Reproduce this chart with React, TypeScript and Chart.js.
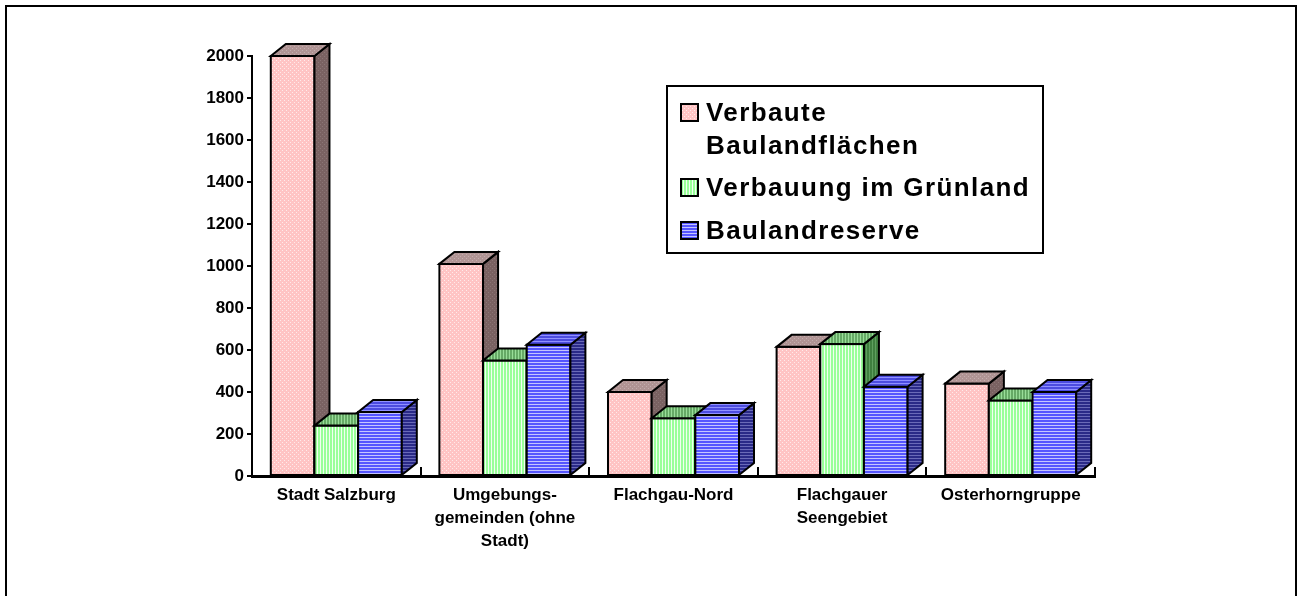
import React, { useEffect, useRef } from 'react';
import { Chart, registerables } from 'chart.js';

Chart.register(...registerables);

const categories: string[][] = [
  ['Stadt Salzburg'],
  ['Umgebungs-', 'gemeinden (ohne', 'Stadt)'],
  ['Flachgau-Nord'],
  ['Flachgauer', 'Seengebiet'],
  ['Osterhorngruppe'],
];
const seriesNames = ['Verbaute Baulandflächen', 'Verbauung im Grünland', 'Baulandreserve'];
const legendLines: string[][] = [['Verbaute', 'Baulandflächen'], ['Verbauung im Grünland'], ['Baulandreserve']];
const verbauteBauland = [2000, 1010, 400, 615, 440];
const verbauungGruenland = [240, 550, 275, 628, 360];
const baulandreserve = [305, 625, 290, 425, 400];
const yMin = 0;
const yMax = 2000;
const yStep = 200;

const FONT = '"Liberation Sans", Arial, sans-serif';

function makePattern(w: number, h: number, paint: (c: CanvasRenderingContext2D) => void) {
  const cv = document.createElement('canvas');
  cv.width = w;
  cv.height = h;
  const c = cv.getContext('2d')!;
  paint(c);
  return c.createPattern(cv, 'repeat')!;
}

function dots(bg: string, fg: string) {
  return makePattern(4, 4, (c) => {
    c.fillStyle = bg;
    c.fillRect(0, 0, 4, 4);
    c.fillStyle = fg;
    c.fillRect(0, 0, 1, 1);
    c.fillRect(2, 2, 1, 1);
  });
}
function vstripes(bg: string, fg: string) {
  return makePattern(3, 3, (c) => {
    c.fillStyle = bg;
    c.fillRect(0, 0, 3, 3);
    c.fillStyle = fg;
    c.fillRect(2, 0, 1, 3);
  });
}
function hstripes(bg: string, fg: string) {
  return makePattern(3, 3, (c) => {
    c.fillStyle = bg;
    c.fillRect(0, 0, 3, 3);
    c.fillStyle = fg;
    c.fillRect(0, 2, 3, 1);
  });
}

export default function App() {
  const ref = useRef<HTMLCanvasElement>(null);

  useEffect(() => {
    const canvas = ref.current!;
    const styles = [
      {
        front: dots('#FFC4C4', '#FFEAEA'),
        top: dots('#B09494', '#C4AEAE'),
        side: dots('#7A6262', '#8C7676'),
      },
      {
        front: vstripes('#99FF99', '#F0FFF0'),
        top: vstripes('#66AA66', '#99DD99'),
        side: vstripes('#3F7F3F', '#5F9F5F'),
      },
      {
        front: hstripes('#5555FF', '#C4C4FF'),
        top: hstripes('#4C4CE0', '#9090FF'),
        side: hstripes('#2A2A88', '#6A6AB8'),
      },
    ];
    const DX = 15;
    const DY = 12;

    const bars3d = {
      id: 'bars3d',
      afterDatasetsDraw(chart: any) {
        const ctx: CanvasRenderingContext2D = chart.ctx;
        ctx.save();
        ctx.lineWidth = 2;
        ctx.strokeStyle = '#000';
        ctx.lineJoin = 'miter';
        const n = chart.data.labels.length;
        for (let j = 0; j < n; j++) {
          for (let i = 0; i < chart.data.datasets.length; i++) {
            const el = chart.getDatasetMeta(i).data[j];
            const { x, y, base, width } = el.getProps(['x', 'y', 'base', 'width'], true);
            const l = x - width / 2;
            const r = x + width / 2;
            const st = styles[i];
            // front
            ctx.fillStyle = st.front;
            ctx.fillRect(l, y, width, base - y);
            ctx.strokeRect(l, y, width, base - y);
            // side
            ctx.beginPath();
            ctx.moveTo(r, y);
            ctx.lineTo(r + DX, y - DY);
            ctx.lineTo(r + DX, base - DY);
            ctx.lineTo(r, base);
            ctx.closePath();
            ctx.fillStyle = st.side;
            ctx.fill();
            ctx.stroke();
            // top
            ctx.beginPath();
            ctx.moveTo(l, y);
            ctx.lineTo(l + DX, y - DY);
            ctx.lineTo(r + DX, y - DY);
            ctx.lineTo(r, y);
            ctx.closePath();
            ctx.fillStyle = st.top;
            ctx.fill();
            ctx.stroke();
          }
        }
        ctx.restore();
      },
    };

    const frameAndLegend = {
      id: 'frameAndLegend',
      beforeDraw(chart: any) {
        const ctx: CanvasRenderingContext2D = chart.ctx;
        ctx.save();
        ctx.fillStyle = '#fff';
        ctx.fillRect(0, 0, chart.width, chart.height);
        ctx.lineWidth = 2;
        ctx.strokeStyle = '#000';
        ctx.strokeRect(6, 6, 1290, 620);
        ctx.restore();
      },
      afterDraw(chart: any) {
        const ctx: CanvasRenderingContext2D = chart.ctx;
        const xs = chart.scales.x;
        const area = chart.chartArea;
        ctx.save();
        // category ticks pointing up from the axis
        ctx.strokeStyle = '#000';
        ctx.lineWidth = 2;
        for (let j = 0; j <= chart.data.labels.length; j++) {
          const px = Math.round(xs.getPixelForValue(j - 0.5));
          ctx.beginPath();
          ctx.moveTo(px, area.bottom);
          ctx.lineTo(px, area.bottom - 9);
          ctx.stroke();
        }
        // legend
        ctx.lineWidth = 2;
        ctx.strokeRect(667, 86, 376, 167);
        const baselines = [[121, 154], [196], [239]];
        ctx.font = `bold 26px ${FONT}`;
        (ctx as any).letterSpacing = '1.4px';
        ctx.textBaseline = 'alphabetic';
        ctx.textAlign = 'left';
        for (let i = 0; i < legendLines.length; i++) {
          const b0 = baselines[i][0];
          ctx.fillStyle = styles[i].front;
          ctx.fillRect(681, b0 - 17, 17, 17);
          ctx.strokeRect(681, b0 - 17, 17, 17);
          ctx.fillStyle = '#000';
          legendLines[i].forEach((t, k) => ctx.fillText(t, 706, baselines[i][k]));
        }
        (ctx as any).letterSpacing = '0px';
        ctx.restore();
      },
    };

    const chart = new Chart(canvas, {
      type: 'bar',
      data: {
        labels: categories,
        datasets: [
          { label: seriesNames[0], data: verbauteBauland, backgroundColor: 'rgba(0,0,0,0)', borderWidth: 0 },
          { label: seriesNames[1], data: verbauungGruenland, backgroundColor: 'rgba(0,0,0,0)', borderWidth: 0 },
          { label: seriesNames[2], data: baulandreserve, backgroundColor: 'rgba(0,0,0,0)', borderWidth: 0 },
        ],
      },
      options: {
        responsive: false,
        animation: false,
        events: [],
        layout: { padding: { top: 56, right: 206, bottom: 0, left: 0 } },
        datasets: { bar: { categoryPercentage: 0.777, barPercentage: 1.0 } },
        plugins: {
          legend: { display: false },
          tooltip: { enabled: false },
        },
        scales: {
          x: {
            z: 1,
            afterFit: (s: any) => {
              s.height = 120;
            },
            grid: { display: false, drawTicks: false },
            border: { display: true, color: '#000', width: 3 },
            ticks: {
              color: '#000',
              font: { family: FONT, size: 17, weight: 'bold', lineHeight: 1.36 },
              padding: 8,
              maxRotation: 0,
              autoSkip: false,
            },
          },
          y: {
            z: 1,
            min: yMin,
            max: yMax,
            afterFit: (s: any) => {
              s.width = 252;
            },
            grid: { drawOnChartArea: false, drawTicks: true, tickLength: 5, color: '#000', lineWidth: 2 },
            border: { display: true, color: '#000', width: 2 },
            ticks: {
              stepSize: yStep,
              color: '#000',
              font: { family: FONT, size: 17, weight: 'bold' },
              padding: 3,
              callback: (v: any) => String(v),
            },
          },
        },
      },
      plugins: [bars3d, frameAndLegend],
    } as any);

    return () => chart.destroy();
  }, []);

  return (
    <div style={{ position: 'absolute', left: 0, top: 0, width: 1301, height: 596, background: '#fff' }}>
      <canvas ref={ref} width={1301} height={596} style={{ display: 'block', width: 1301, height: 596 }} />
    </div>
  );
}
